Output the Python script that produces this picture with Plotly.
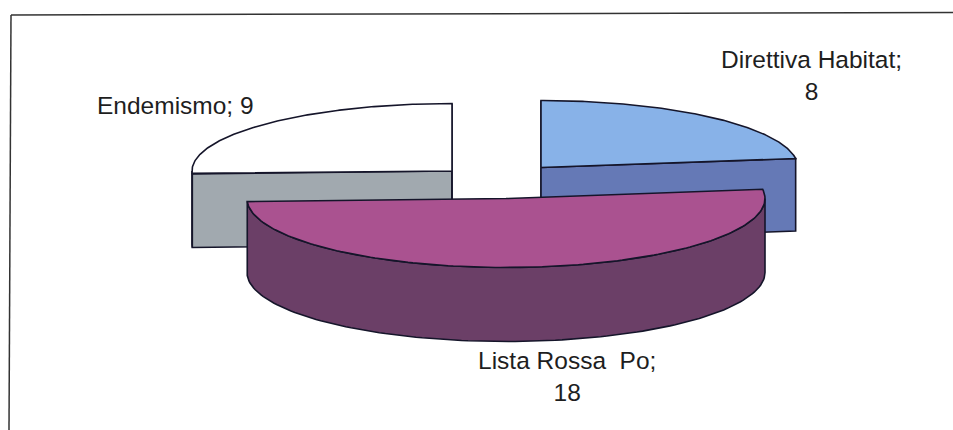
import numpy as np
import plotly.graph_objects as go

categories = ["Direttiva Habitat", "Lista Rossa  Po", "Endemismo"]
values = [8, 18, 9]

# Look of the exploded 3-D pie: (centre x, centre y, radius x, radius y, depth)
geometry = {
    "Direttiva Habitat": (541, 167.5, 257, 67, 72.5),
    "Lista Rossa  Po": (506, 198.5, 259, 69, 74),
    "Endemismo": (452, 171, 260, 67.5, 73.5),
}
top_colors = {"Direttiva Habitat": "#88B2E8", "Lista Rossa  Po": "#AA5290", "Endemismo": "#FFFFFF"}
side_colors = {"Direttiva Habitat": "#6579B6", "Lista Rossa  Po": "#6B3F67", "Endemismo": "#A1A9AF"}
label_pos = {
    "Direttiva Habitat": (811, 75, True),
    "Lista Rossa  Po": (567, 376, True),
    "Endemismo": (175, 105, False),
}
edge = "#15152A"

fractions = np.array(values) / sum(values)
ends = np.cumsum(fractions) * 2 * np.pi
starts = ends - fractions * 2 * np.pi


def point(geo, t, dz=0):
    cx, cy, a, b, _ = geo
    return cx + a * np.sin(t), cy - b * np.cos(t) + dz


def add_poly(fig, xs, ys, color, name):
    fig.add_trace(go.Scatter(
        x=list(xs), y=list(ys), mode="lines", fill="toself", fillcolor=color,
        line=dict(color=edge, width=1.6), name=name, hoverinfo="name", showlegend=False,
    ))


fig = go.Figure()
slices = list(zip(categories, starts, ends))
for name, t0, t1 in [slices[2], slices[0], slices[1]]:
    geo = geometry[name]
    cx, cy, a, b, depth = geo
    # straight cut faces that look towards the viewer
    for t in (t0, t1):
        if np.cos(t) > -0.2 and name != "Lista Rossa  Po":
            px, py = point(geo, t)
            add_poly(fig, [cx, px, px, cx, cx], [cy, py, py + depth, cy + depth, cy],
                     side_colors[name], name)
    # outer wall: only the part facing forward
    lo, hi = max(t0, np.pi / 2), min(t1, 3 * np.pi / 2)
    if hi > lo:
        ts = np.linspace(lo, hi, 120)
        x1, y1 = point(geo, ts)
        x2, y2 = point(geo, ts[::-1], depth)
        add_poly(fig, np.r_[x1, x2, x1[0]], np.r_[y1, y2, y1[0]], side_colors[name], name)
    # top face
    ts = np.linspace(t0, t1, 160)
    xa, ya = point(geo, ts)
    add_poly(fig, np.r_[cx, xa, cx], np.r_[cy, ya, cy], top_colors[name], name)

for name, val in zip(categories, values):
    x, y, wrap = label_pos[name]
    sep = "<br>" if wrap else " "
    fig.add_annotation(x=x, y=y, text=f"{name.replace('  ', '&nbsp; ')};{sep}{val}",
                       showarrow=False, xanchor="center", yanchor="middle",
                       font=dict(family="Liberation Sans", size=24.5, color="#1E1E1E"))

fig.add_shape(type="line", x0=11, y0=15, x1=953, y1=12.5, line=dict(color="#333333", width=1.5))
fig.add_shape(type="line", x0=11, y0=15, x1=9, y1=430, line=dict(color="#333333", width=1.5))

fig.update_xaxes(range=[0, 953], visible=False, fixedrange=True)
fig.update_yaxes(range=[430, 0], visible=False, fixedrange=True)
fig.update_layout(width=953, height=430, margin=dict(l=0, r=0, t=0, b=0),
                  paper_bgcolor="white", plot_bgcolor="white", showlegend=False)
fig.write_html("out.html", config=dict(displayModeBar=False),
               post_script="document.body.style.margin='0';document.body.style.overflow='hidden';")
